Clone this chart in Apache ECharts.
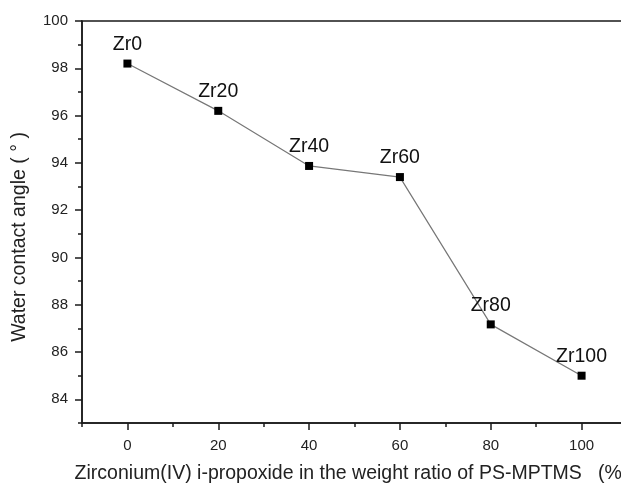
<!DOCTYPE html>
<html>
<head>
<meta charset="utf-8">
<script src="https://cdn.jsdelivr.net/npm/echarts@6/dist/echarts.min.js"></script>
<style>html,body{margin:0;padding:0;background:#fff}#c{width:621px;height:485px}</style>
</head>
<body>
<div id="c"></div>
<script>
const sampleNames = ['Zr0', 'Zr20', 'Zr40', 'Zr60', 'Zr80', 'Zr100'];
const xValues = [0, 20, 40, 60, 80, 100];
const contactAngle = [98.2, 96.2, 93.87, 93.4, 87.17, 85.0];
const xMajorTicks = [0, 20, 40, 60, 80, 100];
const xMinorTicks = [-10, 10, 30, 50, 70, 90, 110];
const yMajorTicks = [84, 86, 88, 90, 92, 94, 96, 98, 100];
const yMinorTicks = [83, 85, 87, 89, 91, 93, 95, 97, 99];

const font = 'Liberation Sans, Arial, sans-serif';
const axisColor = '#1a1a1a';
const chart = echarts.init(document.getElementById('c'));
chart.setOption({
  backgroundColor: '#fff',
  animation: false,
  grid: {
    left: 82, top: 21, bottom: 62, width: 545,
    containLabel: false, outerBoundsMode: 'none',
    show: true, borderColor: axisColor, borderWidth: 1.5, backgroundColor: 'transparent'
  },
  xAxis: [{
    type: 'value', min: -10, max: 110, position: 'bottom',
    axisLine: { show: true, onZero: false, lineStyle: { color: axisColor, width: 1.5 } },
    axisTick: { show: true, inside: false, length: 7, customValues: xMajorTicks, lineStyle: { color: axisColor, width: 1.5 } },
    axisLabel: { customValues: xMajorTicks, fontSize: 15, color: '#222', fontFamily: font, margin: 15 },
    splitLine: { show: false },
    name: 'Zirconium(IV) i-propoxide in the weight ratio of PS-MPTMS   (%)',
    nameLocation: 'middle', nameGap: 41,
    nameTextStyle: { fontSize: 19.5, color: '#222', fontFamily: font, padding: [0, 6, 0, 0] }
  }, {
    type: 'value', min: -10, max: 110, position: 'bottom',
    axisLine: { show: false, onZero: false },
    axisTick: { show: true, length: 4, customValues: xMinorTicks, lineStyle: { color: axisColor, width: 1.5 } },
    axisLabel: { show: false },
    splitLine: { show: false }
  }],
  yAxis: [{
    type: 'value', min: 83, max: 100, position: 'left',
    axisLine: { show: true, onZero: false, lineStyle: { color: axisColor, width: 1.5 } },
    axisTick: { show: true, length: 7, customValues: yMajorTicks, lineStyle: { color: axisColor, width: 1.5 } },
    axisLabel: { customValues: yMajorTicks, fontSize: 15, color: '#222', fontFamily: font, margin: 14 },
    splitLine: { show: false },
    name: 'Water contact angle ( \u00b0 )',
    nameLocation: 'middle', nameGap: 52,
    nameTextStyle: { fontSize: 19.5, color: '#222', fontFamily: font, padding: [0, 30, 0, 0] }
  }, {
    type: 'value', min: 83, max: 100, position: 'left',
    axisLine: { show: false, onZero: false },
    axisTick: { show: true, length: 4, customValues: yMinorTicks, lineStyle: { color: axisColor, width: 1.5 } },
    axisLabel: { show: false },
    splitLine: { show: false }
  }],
  series: [{
    type: 'line',
    xAxisIndex: 0, yAxisIndex: 0,
    data: xValues.map((x, i) => [x, contactAngle[i]]),
    symbol: 'rect', symbolSize: 8,
    itemStyle: { color: '#000' },
    lineStyle: { color: '#777', width: 1.2 },
    label: {
      show: true, position: 'top', distance: 5,
      formatter: p => sampleNames[p.dataIndex],
      fontSize: 19.5, color: '#111', fontFamily: font
    }
  }]
});
</script>
</body>
</html>
